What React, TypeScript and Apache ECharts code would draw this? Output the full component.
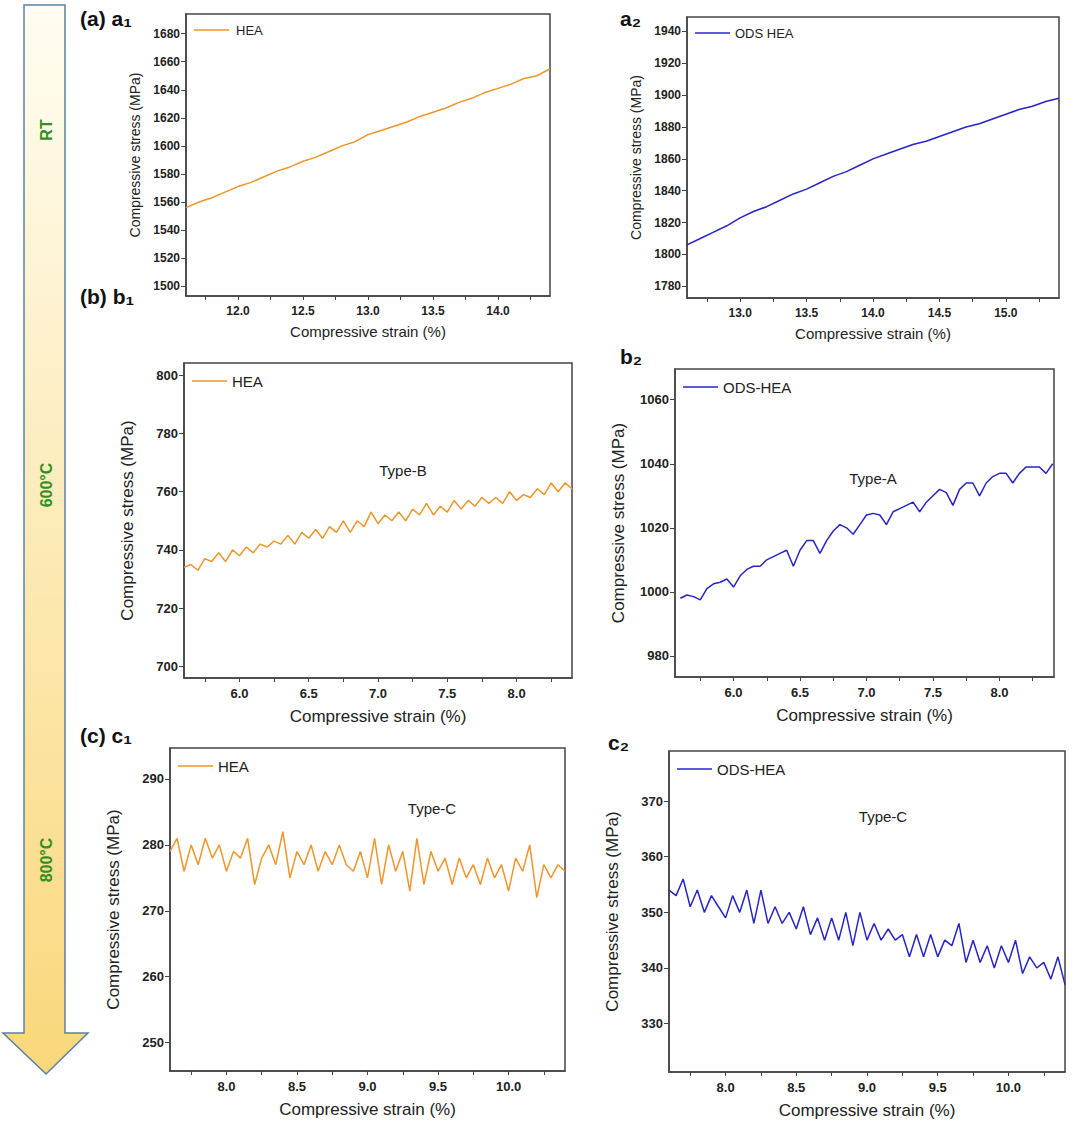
import { useEffect, useRef } from 'react'
import * as echarts from 'echarts'

// strain (%) sample points
const strainA1 = [11.6, 11.7, 11.8, 11.9, 12.0, 12.1, 12.2, 12.3, 12.4, 12.5, 12.6, 12.7, 12.8, 12.9, 13.0, 13.1, 13.2, 13.3, 13.4, 13.5, 13.6, 13.7, 13.8, 13.9, 14.0, 14.1, 14.2, 14.3, 14.4]
const stressA1 = [1556, 1560, 1563, 1567, 1571, 1574, 1578, 1582, 1585, 1589, 1592, 1596, 1600, 1603, 1608, 1611, 1614, 1617, 1621, 1624, 1627, 1631, 1634, 1638, 1641, 1644, 1648, 1650, 1655]

const strainA2 = [12.6, 12.7, 12.8, 12.9, 13.0, 13.1, 13.2, 13.3, 13.4, 13.5, 13.6, 13.7, 13.8, 13.9, 14.0, 14.1, 14.2, 14.3, 14.4, 14.5, 14.6, 14.7, 14.8, 14.9, 15.0, 15.1, 15.2, 15.3, 15.4]
const stressA2 = [1806, 1810, 1814, 1818, 1823, 1827, 1830, 1834, 1838, 1841, 1845, 1849, 1852, 1856, 1860, 1863, 1866, 1869, 1871, 1874, 1877, 1880, 1882, 1885, 1888, 1891, 1893, 1896, 1898]

const strainB = [5.60, 5.65, 5.70, 5.75, 5.80, 5.85, 5.90, 5.95, 6.00, 6.05, 6.10, 6.15, 6.20, 6.25, 6.30, 6.35, 6.40, 6.45, 6.50, 6.55, 6.60, 6.65, 6.70, 6.75, 6.80, 6.85, 6.90, 6.95, 7.00, 7.05, 7.10, 7.15, 7.20, 7.25, 7.30, 7.35, 7.40, 7.45, 7.50, 7.55, 7.60, 7.65, 7.70, 7.75, 7.80, 7.85, 7.90, 7.95, 8.00, 8.05, 8.10, 8.15, 8.20, 8.25, 8.30, 8.35, 8.40]
const stressB1 = [734, 735, 733, 737, 736, 739, 736, 740, 738, 741, 739, 742, 741, 743, 742, 745, 742, 746, 744, 747, 744, 748, 746, 750, 746, 750, 748, 753, 749, 752, 750, 753, 750, 754, 752, 756, 752, 755, 753, 757, 754, 757, 755, 758, 756, 758, 756, 760, 757, 759, 758, 761, 759, 763, 760, 763, 761]
const stressB2 = [998, 999, 998.5, 997.5, 1001, 1002.5, 1003, 1004, 1001.5, 1005, 1007, 1008, 1008, 1010, 1011, 1012, 1013, 1008, 1013, 1016, 1016, 1012, 1016, 1019, 1021, 1020, 1018, 1021, 1024, 1024.5, 1024, 1021, 1025, 1026, 1027, 1028, 1025, 1028, 1030, 1032, 1031, 1027, 1032, 1034, 1034, 1030, 1034, 1036, 1037, 1037, 1034, 1037, 1039, 1039, 1039, 1037, 1040]

const strainC = [7.60, 7.65, 7.70, 7.75, 7.80, 7.85, 7.90, 7.95, 8.00, 8.05, 8.10, 8.15, 8.20, 8.25, 8.30, 8.35, 8.40, 8.45, 8.50, 8.55, 8.60, 8.65, 8.70, 8.75, 8.80, 8.85, 8.90, 8.95, 9.00, 9.05, 9.10, 9.15, 9.20, 9.25, 9.30, 9.35, 9.40, 9.45, 9.50, 9.55, 9.60, 9.65, 9.70, 9.75, 9.80, 9.85, 9.90, 9.95, 10.00, 10.05, 10.10, 10.15, 10.20, 10.25, 10.30, 10.35, 10.40]
const stressC1 = [279, 281, 276, 280, 277, 281, 278, 280, 276, 279, 278, 281, 274, 278, 280, 277, 282, 275, 279, 277, 280, 276, 279, 277, 280, 277, 276, 279, 275, 281, 274, 280, 276, 279, 273, 281, 274, 279, 276, 278, 274, 278, 275, 277, 274, 278, 275, 277, 273, 278, 276, 280, 272, 277, 275, 277, 276]
const stressC2 = [354, 353, 356, 351, 354, 350, 353, 351, 349, 353, 350, 354, 348, 354, 348, 351, 348, 350, 347, 351, 346, 349, 345, 349, 345, 350, 344, 350, 345, 348, 345, 347, 345, 346, 342, 346, 342, 346, 342, 345, 344, 348, 341, 345, 341, 344, 340, 344, 341, 345, 339, 342, 340, 341, 338, 342, 337]

const ticksA1 = [1500, 1520, 1540, 1560, 1580, 1600, 1620, 1640, 1660, 1680]
const ticksA2 = [1780, 1800, 1820, 1840, 1860, 1880, 1900, 1920, 1940]
const ticksB1 = [700, 720, 740, 760, 780, 800]
const ticksB2 = [980, 1000, 1020, 1040, 1060]
const ticksC1 = [250, 260, 270, 280, 290]
const ticksC2 = [330, 340, 350, 360, 370]

const ORANGE = '#f0952a'
const BLUE = '#2626c8'
const FONT = 'Liberation Sans, Arial, sans-serif'

const panels = [
  { grid: [186, 14, 364, 282], x: [11.6, 14.4], y: [1493, 1694], yTicks: ticksA1, xs: strainA1, ys: stressA1, color: ORANGE, name: 'HEA', big: false },
  { grid: [687, 17, 372, 281], x: [12.6, 15.4], y: [1772.7, 1949], yTicks: ticksA2, xs: strainA2, ys: stressA2, color: BLUE, name: 'ODS HEA', big: false },
  { grid: [184, 363, 388, 315], x: [5.6, 8.4], y: [696, 804.2], yTicks: ticksB1, xs: strainB, ys: stressB1, color: ORANGE, name: 'HEA', big: true },
  { grid: [675, 369, 379, 308], x: [5.56, 8.41], y: [973.4, 1069.6], yTicks: ticksB2, xs: strainB, ys: stressB2, color: BLUE, name: 'ODS-HEA', big: true },
  { grid: [170, 748, 395, 323], x: [7.6, 10.4], y: [245.7, 294.7], yTicks: ticksC1, xs: strainC, ys: stressC1, color: ORANGE, name: 'HEA', big: true },
  { grid: [669, 751, 396, 321], x: [7.6, 10.4], y: [321.3, 379], yTicks: ticksC2, xs: strainC, ys: stressC2, color: BLUE, name: 'ODS-HEA', big: true }
]

function quarterTicks(min: number, max: number): number[] {
  const out: number[] = []
  for (let v = Math.ceil(min * 4) / 4; v <= max + 1e-9; v += 0.25) out.push(Math.round(v * 100) / 100)
  return out
}

function halfTicks(min: number, max: number): number[] {
  return quarterTicks(min, max).filter((v) => Math.abs(v * 2 - Math.round(v * 2)) < 1e-6)
}

export default function App() {
  const ref = useRef<HTMLDivElement>(null)

  useEffect(() => {
    document.body.style.margin = '0'
    if (!ref.current) return
    const chart = echarts.init(ref.current, null, { renderer: 'svg' })

    const axisColor = '#444'
    const graphics: any[] = [
      {
        type: 'polygon',
        shape: { points: [[24, 5], [65, 5], [65, 1033], [88, 1033], [46, 1074], [3, 1033], [24, 1033]] },
        style: {
          fill: new echarts.graphic.LinearGradient(0, 0, 0, 1, [
            { offset: 0, color: '#fffdf2' },
            { offset: 1, color: '#fad77a' }
          ]),
          stroke: '#5b80a8',
          lineWidth: 1.5
        }
      }
    ]
    const sideLabels = [['RT', 130], ['600°C', 485], ['800°C', 860]] as const
    sideLabels.forEach(([t, y]) => {
      graphics.push({
        type: 'text', x: 46, y, rotation: Math.PI / 2,
        style: { text: t, fill: '#2f8f1f', font: `bold 16px ${FONT}`, align: 'center', verticalAlign: 'middle' }
      })
    })
    const tags = [['(a) a₁', 80, 18], ['a₂', 620, 18], ['(b) b₁', 80, 296], ['b₂', 620, 356], ['(c) c₁', 80, 735], ['c₂', 608, 742]] as const
    tags.forEach(([t, x, y]) => {
      graphics.push({ type: 'text', x, y, style: { text: t, fill: '#111', font: `bold 21px ${FONT}`, verticalAlign: 'middle' } })
    })
    const types = [['Type-B', 403, 470], ['Type-A', 873, 478], ['Type-C', 432, 808], ['Type-C', 883, 816]] as const
    types.forEach(([t, x, y]) => {
      graphics.push({ type: 'text', x, y, style: { text: t, fill: '#222', font: `15px ${FONT}`, align: 'center', verticalAlign: 'middle' } })
    })
    panels.forEach((p) => {
      const [l, t] = p.grid
      const ly = t + (p.big ? 18 : 16)
      graphics.push({ type: 'line', shape: { x1: l + 8, y1: ly, x2: l + 43, y2: ly }, style: { stroke: p.color, lineWidth: 1.5 } })
      graphics.push({ type: 'text', x: l + (p.name === 'HEA' && !p.big ? 50 : 48), y: ly, style: { text: p.name, fill: '#222', font: `${p.big ? 15 : 13}px ${FONT}`, verticalAlign: 'middle' } })
    })

    const option: echarts.EChartsOption = {
      animation: false,
      backgroundColor: '#fff',
      grid: panels.map((p) => ({
        left: p.grid[0], top: p.grid[1], width: p.grid[2], height: p.grid[3],
        show: true, borderColor: axisColor, borderWidth: 1.5, backgroundColor: 'transparent'
      })),
      xAxis: panels.map((p, i) => ({
        type: 'value', gridIndex: i, min: p.x[0], max: p.x[1],
        name: 'Compressive strain (%)', nameLocation: 'middle', nameGap: p.big ? 30 : 28,
        nameTextStyle: { fontFamily: FONT, fontSize: p.big ? 17 : 15, color: '#222' },
        axisLine: { show: true, lineStyle: { color: axisColor, width: 1.5 } },
        axisTick: { show: true, length: 4, lineStyle: { color: axisColor }, customValues: quarterTicks(p.x[0], p.x[1]) },
        axisLabel: { fontFamily: FONT, fontWeight: 'bold', fontSize: p.big ? 13 : 12, color: '#222', margin: 9,
          customValues: halfTicks(p.x[0], p.x[1]), formatter: (v: number) => v.toFixed(1) },
        splitLine: { show: false }
      })),
      yAxis: panels.map((p, i) => ({
        type: 'value', gridIndex: i, min: p.y[0], max: p.y[1],
        name: 'Compressive stress (MPa)', nameLocation: 'middle', nameGap: p.big ? 48 : 44,
        nameTextStyle: { fontFamily: FONT, fontSize: p.big ? 17 : 14, color: '#222' },
        axisLine: { show: true, lineStyle: { color: axisColor, width: 1.5 } },
        axisTick: { show: true, length: 5, lineStyle: { color: axisColor }, customValues: p.yTicks },
        axisLabel: { fontFamily: FONT, fontWeight: 'bold', fontSize: p.big ? 13 : 12, color: '#222', margin: 6,
          customValues: p.yTicks, formatter: (v: number) => String(Math.round(v)) },
        splitLine: { show: false }
      })),
      series: panels.map((p, i) => ({
        type: 'line', name: p.name, xAxisIndex: i, yAxisIndex: i,
        data: p.xs.map((x, k) => [x, p.ys[k]]),
        showSymbol: false, symbol: 'none',
        lineStyle: { color: p.color, width: 1.5 }
      })),
      graphic: graphics
    }
    chart.setOption(option)
    return () => chart.dispose()
  }, [])

  return <div ref={ref} style={{ width: 1080, height: 1135 }} />
}
